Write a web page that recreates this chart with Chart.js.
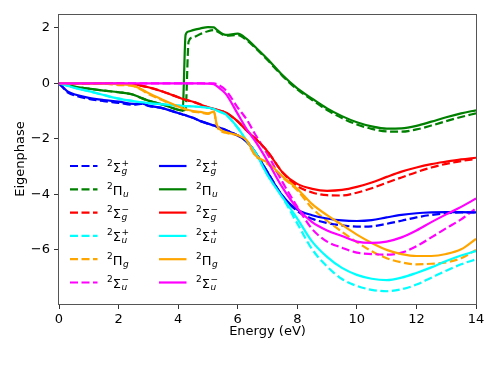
<!DOCTYPE html>
<html><head><meta charset="utf-8">
<script src="https://cdn.jsdelivr.net/npm/chart.js@4.4.0/dist/chart.umd.min.js"></script>
<style>html,body{margin:0;padding:0;background:#fff}canvas{display:block}</style>
</head><body>
<canvas id="c" width="498" height="374"></canvas>
<script>
// Energy grid (eV)
const energy = [0, 0.3, 0.6, 1, 1.5, 2, 2.5, 2.75, 3, 3.5, 4, 4.15, 4.25, 4.35, 4.5, 4.75, 5, 5.2, 5.3, 5.6, 6, 6.3, 6.6, 7, 7.5, 8, 8.5, 9, 9.5, 10, 10.5, 11, 11.5, 12, 12.5, 13, 13.5, 14];

// Dashed series
const sgPlusDashed  = [0,-0.33,-0.46,-0.56,-0.64, -0.7,-0.77,-0.74,-0.81,-0.9, -1.07,-1.12,-1.15,-1.19,-1.24, -1.36,-1.45,-1.52,-1.56,-1.68, -1.88,-2.1,-2.5,-3.2,-4.05, -4.6,-4.88,-5.03,-5.12,-5.16, -5.15,-5.06,-4.95,-4.83,-4.74, -4.68,-4.65,-4.65];
const piUDashed     = [0,-0.07,-0.13,-0.19,-0.26, -0.32,-0.41,-0.52,-0.62,-0.77, -0.95,-0.98,-0.95,1.5,1.66, 1.78,1.88,1.92,1.88,1.72, 1.74,1.56,1.27,0.84,0.27, -0.22,-0.6,-0.96,-1.25,-1.48, -1.64,-1.73,-1.74,-1.66,-1.52, -1.36,-1.21,-1.08];
const sgMinusDashed = [0,0,0,0,0, -0.01,-0.03,-0.08,-0.14,-0.3, -0.5,-0.56,-0.59,-0.62,-0.66, -0.76,-0.86,-0.92,-0.95,-1.05, -1.37,-1.7,-2.0,-2.45,-3.2, -3.7,-3.93,-4.03,-4.04,-3.94, -3.78,-3.58,-3.39,-3.2,-3.03, -2.9,-2.8,-2.72];
const suPlusDashed  = [0,-0.09,-0.18,-0.28,-0.42, -0.55,-0.64,-0.68,-0.71,-0.76, -0.8,-0.81,-0.82,-0.82,-0.83, -0.85,-0.88,-0.92,-0.98,-1.12, -1.6,-2.07,-2.5,-3.3,-4.1, -5.05,-5.98,-6.6,-7.05,-7.3, -7.44,-7.49,-7.42,-7.25,-7.0, -6.75,-6.52,-6.34];
const piGDashed     = [0,0,0,0,-0.01, -0.06,-0.1,-0.22,-0.38,-0.62, -0.85,-0.9,-0.94,-0.97,-1.02, -1.05,-1.1,-1.0,-1.55,-1.78, -1.88,-2.1,-2.62,-2.9,-3.38, -3.85,-4.5,-4.95,-5.35,-5.72, -6.05,-6.3,-6.45,-6.52,-6.5, -6.45,-6.3,-6.0];
const suMinusDashed = [0,0,0,0,0, 0,0,0,0,0, 0,0,0,0,0, 0,0,0,-0.03,-0.25, -0.87,-1.3,-1.86,-2.55,-3.55, -4.45,-5.25,-5.7,-5.92,-6.1, -6.15,-6.17,-6.1,-5.87,-5.55, -5.22,-4.9,-4.5];

// Solid series
const sgPlusSolid   = [0,-0.3,-0.42,-0.52,-0.6, -0.66,-0.74,-0.72,-0.8,-0.9, -1.07,-1.12,-1.15,-1.19,-1.24, -1.36,-1.45,-1.52,-1.56,-1.68, -1.88,-2.1,-2.5,-3.2,-4.05, -4.55,-4.75,-4.87,-4.94,-4.96, -4.93,-4.83,-4.74,-4.68,-4.65, -4.64,-4.64,-4.65];
const piUSolid      = [0,-0.07,-0.13,-0.19,-0.26, -0.32,-0.41,-0.52,-0.62,-0.77, -0.95,-0.98,1.75,1.87,1.92, 1.98,2.03,2.02,1.93,1.75, 1.79,1.6,1.3,0.88,0.3, -0.18,-0.55,-0.9,-1.18,-1.4, -1.55,-1.63,-1.62,-1.53,-1.38, -1.22,-1.08,-0.97];
const sgMinusSolid  = [0,0,0,0,0, -0.01,-0.03,-0.08,-0.14,-0.3, -0.5,-0.56,-0.59,-0.62,-0.66, -0.76,-0.86,-0.92,-0.95,-1.05, -1.37,-1.7,-2.0,-2.45,-3.2, -3.62,-3.8,-3.87,-3.84,-3.73, -3.57,-3.37,-3.18,-3.03,-2.91, -2.82,-2.74,-2.68];
const suPlusSolid   = [0,-0.09,-0.18,-0.28,-0.42, -0.55,-0.64,-0.68,-0.71,-0.76, -0.8,-0.81,-0.82,-0.82,-0.83, -0.85,-0.88,-0.92,-0.98,-1.12, -1.6,-2.07,-2.5,-3.3,-4.1, -4.87,-5.7,-6.25,-6.65,-6.9, -7.04,-7.09,-7.0,-6.83,-6.63, -6.4,-6.2,-6.04];
const piGSolid      = [0,0,0,0,-0.01, -0.03,-0.08,-0.2,-0.35,-0.6, -0.83,-0.9,-0.93,-0.96,-1.0, -1.03,-1.08,-1.02,-1.5,-1.75, -1.87,-2.05,-2.6,-2.85,-3.35, -3.8,-4.35,-4.75,-5.1,-5.45, -5.75,-6.0,-6.15,-6.22,-6.22, -6.15,-5.98,-5.6];
const suMinusSolid  = [0,0,0,0,0, 0,0,0,0,0, 0,0,0,0,0, 0,-0.01,-0.03,-0.1,-0.38, -1.1,-1.65,-2.1,-2.8,-3.75, -4.5,-5.0,-5.3,-5.5,-5.7, -5.75,-5.7,-5.55,-5.3,-5.0, -4.72,-4.45,-4.15];

// Labels / ticks
const symbolNames = ['Σ', 'Π', 'Σ', 'Σ', 'Π', 'Σ'];
const symbolSubs  = ['g', 'u', 'g', 'u', 'g', 'u'];
const symbolSups  = ['+', '', '\u2212', '+', '', '\u2212'];
const seriesColors = ['#0000ff', '#008000', '#ff0000', '#00ffff', '#ffa500', '#ff00ff'];
const xTicks = [0, 2, 4, 6, 8, 10, 12, 14];
const yTicks = [-6, -4, -2, 0, 2];

const dashedSeries = [sgPlusDashed, piUDashed, sgMinusDashed, suPlusDashed, piGDashed, suMinusDashed];
const solidSeries  = [sgPlusSolid, piUSolid, sgMinusSolid, suPlusSolid, piGSolid, suMinusSolid];

const DASH = [8, 3.5];
const LW = 2.2;
const FONT = 'DejaVu Sans';

const datasets = [];
function addSeries(vals, i, dashed) {
  datasets.push({
    label: '2' + symbolNames[i] + symbolSubs[i] + symbolSups[i] + (dashed ? ' dashed' : ''),
    data: energy.map((e, j) => ({x: e, y: vals[j]})),
    borderColor: seriesColors[i],
    backgroundColor: seriesColors[i],
    borderWidth: LW,
    borderDash: dashed ? DASH : [],
    pointRadius: 0,
    fill: false,
    cubicInterpolationMode: 'monotone'
  });
}
dashedSeries.forEach((v, i) => addSeries(v, i, true));
solidSeries.forEach((v, i) => addSeries(v, i, false));
datasets.forEach((d, i) => { d.order = datasets.length - i; });

function drawLabel(ctx, x, y, i) {
  ctx.fillStyle = '#000';
  ctx.textBaseline = 'alphabetic';
  ctx.textAlign = 'left';
  const base = y + 5.5;
  ctx.font = '9px ' + FONT;
  ctx.fillText('2', x, base - 6);
  x += ctx.measureText('2').width;
  ctx.font = '13px ' + FONT;
  ctx.fillText(symbolNames[i], x, base);
  x += ctx.measureText(symbolNames[i]).width + 0.5;
  ctx.font = 'italic 9px ' + FONT;
  ctx.fillText(symbolSubs[i], x, base + 2);
  if (symbolSups[i]) {
    ctx.font = '9px ' + FONT;
    ctx.fillText(symbolSups[i], x, base - 6);
  }
}

const mathLegend = {
  id: 'mathLegend',
  afterDraw(chart) {
    const ctx = chart.ctx, a = chart.chartArea;
    ctx.save();
    // frame
    ctx.strokeStyle = '#555';
    ctx.lineWidth = 1;
    ctx.setLineDash([]);
    ctx.strokeRect(Math.round(a.left) - 0.5, Math.round(a.top) + 0.5, Math.round(a.right - a.left) + 1, Math.round(a.bottom - a.top));
    // legend
    const cols = [{x: a.left + 11, dash: DASH}, {x: a.left + 100, dash: []}];
    const y0 = a.top + 152, step = 23.3;
    cols.forEach(c => {
      for (let r = 0; r < 6; r++) {
        const y = y0 + r * step;
        ctx.beginPath();
        ctx.setLineDash(c.dash);
        ctx.strokeStyle = seriesColors[r];
        ctx.lineWidth = LW;
        ctx.moveTo(c.x, y);
        ctx.lineTo(c.x + 27.5, y);
        ctx.stroke();
        ctx.setLineDash([]);
        drawLabel(ctx, c.x + 37, y, r);
      }
    });
    ctx.restore();
  }
};

const fmt = v => (v < 0 ? '\u2212' + Math.abs(v) : String(v));

new Chart(document.getElementById('c'), {
  type: 'line',
  data: {datasets},
  options: {
    responsive: false,
    animation: false,
    devicePixelRatio: 1,
    layout: {padding: {left: 10, right: 22, top: 14, bottom: 0}},
    plugins: {legend: {display: false}, tooltip: {enabled: false}},
    scales: {
      x: {
        type: 'linear', min: 0, max: 14,
        afterBuildTicks: s => { s.ticks = xTicks.map(v => ({value: v})); },
        afterFit: s => { s.height = 70; },
        grid: {drawOnChartArea: false, drawTicks: true, tickLength: 5, color: '#333', tickWidth: 1},
        border: {display: false},
        ticks: {padding: 3, color: '#000', font: {family: FONT, size: 13}, maxRotation: 0, autoSkip: false, callback: fmt},
        title: {display: true, text: 'Energy (eV)', color: '#000', font: {family: FONT, size: 13}, padding: {top: 0, bottom: 35}}
      },
      y: {
        type: 'linear', min: -7.95, max: 2.5,
        afterBuildTicks: s => { s.ticks = yTicks.map(v => ({value: v})); },
        afterFit: s => { s.width = 49; },
        grid: {drawOnChartArea: false, drawTicks: true, tickLength: 5, color: '#333', tickWidth: 1},
        border: {display: false},
        ticks: {padding: 4, color: '#000', font: {family: FONT, size: 13}, callback: fmt},
        title: {display: true, text: 'Eigenphase', color: '#000', font: {family: FONT, size: 13}, padding: {top: 3, bottom: 0}}
      }
    }
  },
  plugins: [mathLegend]
});
</script>
</body></html>
